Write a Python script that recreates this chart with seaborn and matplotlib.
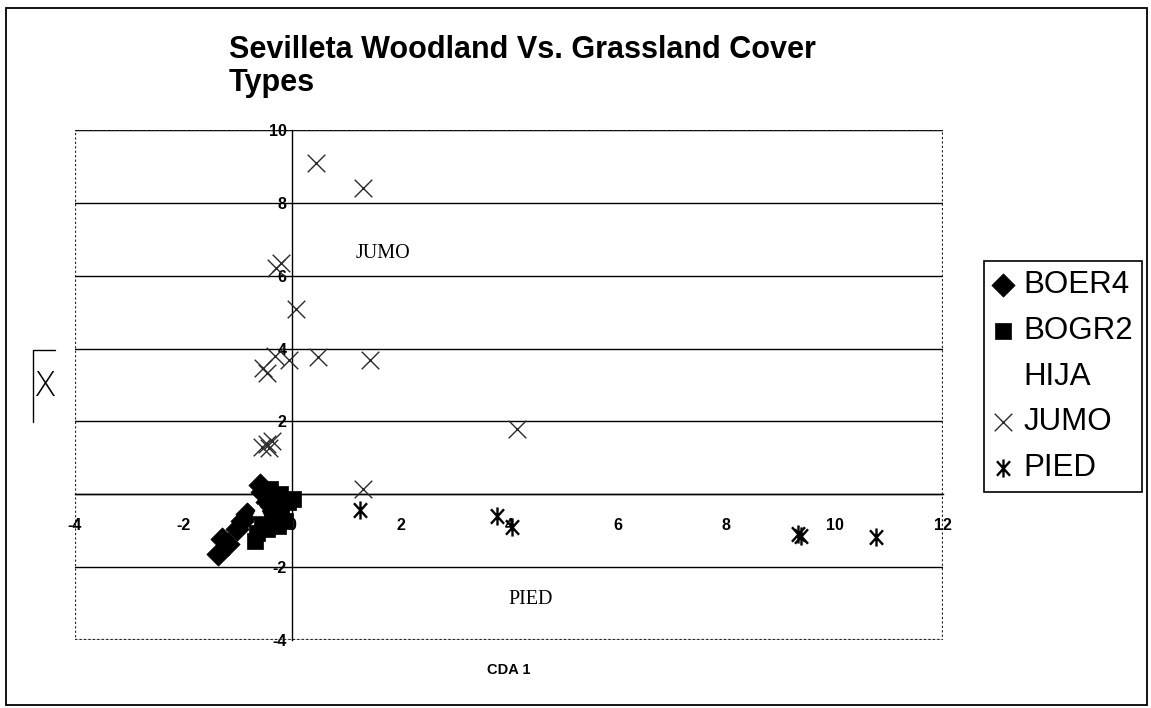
import matplotlib
matplotlib.use('Agg')
import matplotlib.pyplot as plt
import seaborn as sns
from matplotlib.path import Path
from matplotlib.patches import Rectangle
from matplotlib.lines import Line2D

# canonical discriminant scores
BOER4_X = [-1.29, -1.36, -1.18, -1.01, -0.92, -0.83, -0.59, -0.46, -0.35, -0.55]
BOER4_Y = [-1.24, -1.65, -1.37, -0.96, -0.74, -0.55, 0.25, -0.20, -0.47, 0.05]

BOGR2_X = [-0.68, -0.65, -0.46, -0.26, -0.13, -0.55, -0.41, -0.22, -0.07, 0.02, -0.20, -0.30]
BOGR2_Y = [-1.29, -1.07, -0.96, -0.88, -0.74, -0.74, 0.14, 0.00, -0.20, -0.14, -0.40, -0.60]

HIJA_X = [-0.62]
HIJA_Y = [-0.42]

JUMO_X = [0.45, 1.30, -0.30, -0.20, 0.07, -0.31, -0.05, 0.48, 1.44, -0.53, -0.46,
          -0.55, -0.46, -0.37, -0.42, 1.30, 4.15]
JUMO_Y = [9.10, 8.40, 6.20, 6.35, 5.10, 3.80, 3.68, 3.77, 3.70, 3.46, 3.32,
          1.30, 1.38, 1.46, 1.28, 0.15, 1.80]

PIED_X = [1.25, 3.78, 4.06, 9.33, 9.38, 10.76]
PIED_Y = [-0.42, -0.60, -0.90, -1.08, -1.15, -1.17]

X_TICKS = [-4, -2, 0, 2, 4, 6, 8, 10, 12]
Y_TICKS = [-4, -2, 0, 2, 4, 6, 8, 10]

CHART_TITLE = 'Sevilleta Woodland Vs. Grassland Cover\nTypes'
X_AXIS_LABEL = 'CDA 1'

sns.set_style('white')
plt.rcParams['font.family'] = ['Liberation Sans', 'DejaVu Sans']
plt.rcParams['text.color'] = 'black'
plt.rcParams['axes.unicode_minus'] = False

# excel style asterisk: vertical bar plus a cross
star = Path([(0, -1), (0, 1), (-0.72, -0.8), (0.72, 0.8), (-0.72, 0.8), (0.72, -0.8)],
            [Path.MOVETO, Path.LINETO] * 3)

fig = plt.figure(figsize=(11.51, 7.08), dpi=100)
ax = fig.add_axes([75 / 1151, 1 - 640 / 708, 868 / 1151, 510 / 708])

sns.scatterplot(x=BOER4_X, y=BOER4_Y, marker='D', s=140, color='black', edgecolor='black',
                linewidth=0.5, label='BOER4', ax=ax, zorder=3)
sns.scatterplot(x=BOGR2_X, y=BOGR2_Y, marker='s', s=130, color='black', edgecolor='black',
                linewidth=0.5, label='BOGR2', ax=ax, zorder=3)
sns.scatterplot(x=HIJA_X, y=HIJA_Y, marker='^', s=60, color='white', edgecolor='white',
                linewidth=0.5, label='HIJA', ax=ax, zorder=3)
sns.scatterplot(x=JUMO_X, y=JUMO_Y, marker='x', s=160, color='#2a2a2a',
                linewidth=1.0, label='JUMO', ax=ax, zorder=4)
sns.scatterplot(x=PIED_X, y=PIED_Y, marker=star, s=170, color='black', edgecolor='black',
                linewidth=1.7, label='PIED', ax=ax, zorder=4)

ax.set_xlim(-4, 12)
ax.set_ylim(-4, 10)
ax.set_xticks(X_TICKS)
ax.set_yticks(Y_TICKS)
ax.set_xlabel('')
ax.set_ylabel('')

# axes cross at the origin, plot area gets a dotted frame
for side in ['top', 'right']:
  ax.spines[side].set_visible(False)
ax.spines['left'].set_position(('data', 0))
ax.spines['bottom'].set_position(('data', 0))
ax.spines['left'].set_color('black')
ax.spines['bottom'].set_color('black')
ax.spines['left'].set_linewidth(1)
ax.spines['bottom'].set_linewidth(1)
ax.add_patch(Rectangle((0, 0), 1, 1, transform=ax.transAxes, fill=False,
                       linestyle=(0, (1, 1)), linewidth=1.6, edgecolor='#222222', zorder=2))

ax.yaxis.grid(True, color='black', linewidth=1)
ax.xaxis.grid(False)
ax.set_axisbelow(True)

ax.tick_params(axis='x', direction='out', length=5, width=1, pad=12, labelsize=11.5, colors='black')
ax.tick_params(axis='y', direction='out', length=3, width=1, pad=1, labelsize=11.5, colors='black')
for lbl in ax.get_xticklabels() + ax.get_yticklabels():
  lbl.set_fontweight('bold')

ax.text(1.68, 6.62, 'JUMO', family='Liberation Serif', fontsize=14.5, ha='center', va='center')
ax.text(4.4, -2.9, 'PIED', family='Liberation Serif', fontsize=14.5, ha='center', va='center')

handles, labels = ax.get_legend_handles_labels()
ax.legend(handles, labels, loc='upper left', bbox_to_anchor=(984 / 1151, 1 - 261 / 708),
          bbox_transform=fig.transFigure, fontsize=22.5, frameon=True, fancybox=False,
          edgecolor='black', framealpha=1, handlelength=0.6, handletextpad=0.35,
          labelspacing=0.5, borderpad=0.3, borderaxespad=0)
ax.get_legend().get_frame().set_linewidth(1.2)

fig.text(229 / 1151, 1 - 35 / 708, CHART_TITLE, fontsize=22, fontweight='bold',
         ha='left', va='top', linespacing=1.12)
fig.text(509 / 1151, 1 - 670 / 708, X_AXIS_LABEL, fontsize=10.5, fontweight='bold',
         ha='center', va='center')

# garbled y axis title box from the original
fig.text(44 / 1151, 1 - 387 / 708, 'X', fontsize=24, ha='center', va='center',
         family='DejaVu Sans', fontweight='light')
fig.add_artist(Line2D([33 / 1151, 33 / 1151, 55 / 1151],
                      [1 - 422 / 708, 1 - 350 / 708, 1 - 350 / 708],
                      color='black', linewidth=1))

# outer chart border
fig.add_artist(Rectangle((6 / 1151, 3 / 708), 1141 / 1151, 697 / 708, fill=False,
                         edgecolor='black', linewidth=1.3, transform=fig.transFigure))

fig.savefig('out.png', dpi=100)
